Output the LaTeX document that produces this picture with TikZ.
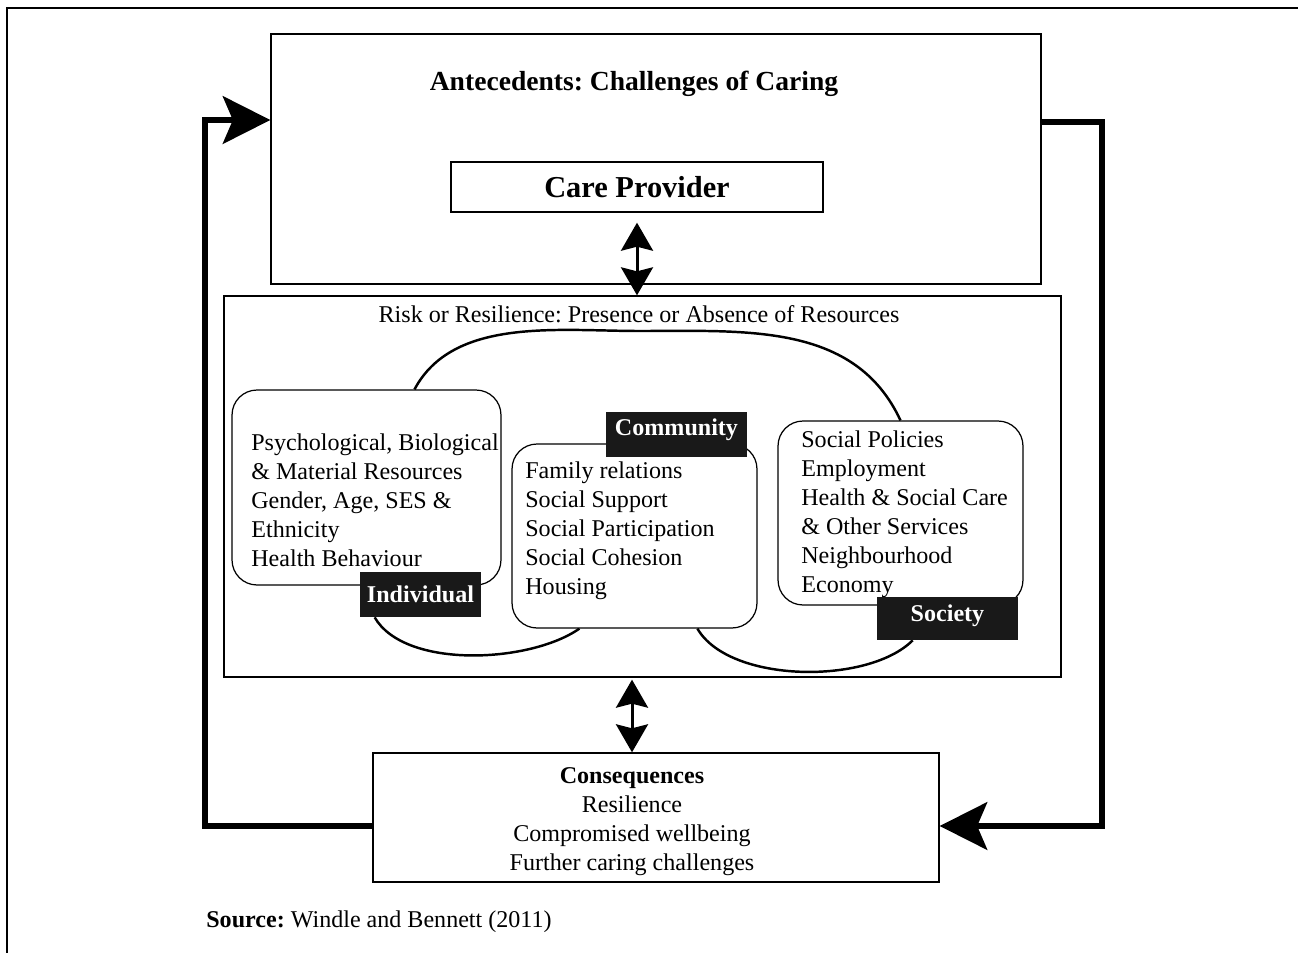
\documentclass[tikz,border=0pt]{standalone}
\usepackage{fontspec}
\setmainfont{Liberation Serif}
\usetikzlibrary{arrows.meta, calc}
\pgfdeclarelayer{bg}
\pgfsetlayers{bg,main}
\frenchspacing

\begin{document}
\begin{tikzpicture}[x=0.02cm, y=0.02cm,
    txt/.style={inner sep=0pt, font=\fontsize{13.7pt}{16.5pt}\selectfont},
    plainbox/.style={draw, line width=0.8pt, inner sep=0pt},
    resbox/.style={draw, line width=0.7pt, rounded corners=0.5cm, fill=white, inner sep=0pt},
    tag/.style={fill=black!90, text=white, inner sep=0pt, font=\fontsize{13.7pt}{16.5pt}\selectfont\bfseries},
    feedback/.style={line width=3.4pt, -{Stealth[length=0.95cm, width=0.95cm, inset=0.2cm]}},
    twoway/.style={line width=1.7pt, {Stealth[length=0.56cm, width=0.64cm, inset=0.08cm]}-{Stealth[length=0.56cm, width=0.64cm, inset=0.08cm]}}]
    \useasboundingbox (0,0) rectangle (1298,-953);

    % frame
    \draw[line width=1.6pt] (7,-953) -- (7,-8) -- (1298,-8);

    % antecedents
    \node[plainbox, minimum width=15.4cm, minimum height=5cm] (antec) at (656,-159) {};
    \node[txt, anchor=base, font=\fontsize{15.7pt}{18pt}\selectfont\bfseries] (antectitle) at (634,-91) {Antecedents: Challenges of Caring};
    \node[plainbox, minimum width=7.44cm, minimum height=1cm, font=\fontsize{17.3pt}{20pt}\selectfont\bfseries] (care) at (637,-187) {Care Provider};

    % resources
    \node[plainbox, minimum width=16.74cm, minimum height=7.62cm] (risk) at (642.5,-486.5) {};
    \node[txt, anchor=base] (risklabel) at (639,-322) {Risk or Resilience: Presence or Absence of Resources};

    \node[resbox, minimum width=5.38cm, minimum height=3.9cm] (indiv) at (366.5,-487.5) {};
    \node[resbox, minimum width=4.9cm, minimum height=3.68cm] (comm) at (634.5,-536) {};
    \node[resbox, minimum width=4.9cm, minimum height=3.68cm] (soc) at (900.5,-513) {};

    % anchored at the last line
    \node[txt, anchor=base west, align=left] (indivtxt) at (251,-566)
        {Psychological, Biological\\ \& Material Resources\\ Gender, Age, SES \&\\ Ethnicity\\ Health Behaviour};
    \node[txt, anchor=base west, align=left] (commtxt) at (525,-594)
        {Family relations\\ Social Support\\ Social Participation\\ Social Cohesion\\ Housing};
    \node[txt, anchor=base west, align=left] (soctxt) at (801,-592)
        {Social Policies\\ Employment\\ Health \& Social Care\\ \& Other Services\\ Neighbourhood\\ Economy};

    \node[tag, minimum width=2.42cm, minimum height=0.9cm] (indivtag) at (420.5,-594.5) {Individual};
    \node[tag, minimum width=2.82cm, minimum height=0.9cm] (commtag) at (676.5,-434.5) {\raisebox{0.28cm}{Community}};
    \node[tag, minimum width=2.82cm, minimum height=0.86cm] (soctag) at (947.5,-618.5) {\raisebox{0.2cm}{Society}};

    \coordinate (archtop) at (640,-331);
    \begin{pgfonlayer}{bg}
      \draw[line width=1.4pt] ($(indiv.north)+(48,0)$) to[out=62, in=180, looseness=0.9] (archtop) to[out=0, in=115] (soc.north);
      \draw[line width=1.4pt] ($(indivtag.south west)+(15,0)$) to[out=-60, in=-145, looseness=0.75] ($(comm.south west)+(68,0)$);
      \draw[line width=1.4pt] ($(comm.south west)+(186,0)$) to[out=-60, in=-135, looseness=0.75] ($(soctag.south west)+(36,0)$);
    \end{pgfonlayer}

    % consequences
    \node[plainbox, minimum width=11.32cm, minimum height=2.58cm] (conseq) at (656,-817.5) {};
    \node[txt, anchor=base, align=center] (conseqtxt) at (632,-870)
        {\textbf{Consequences}\\ Resilience\\ Compromised wellbeing\\ Further caring challenges};

    \node[txt, anchor=base west] (source) at (206,-927) {\textbf{Source:} Windle and Bennett (2011)};

    % arrows
    \draw[twoway] ([yshift=-0.2cm]care.south) -- (care.south |- risk.north);
    \draw[twoway] ([yshift=-0.04cm]risk.south -| conseqtxt.north) -- (conseqtxt.north |- conseq.north);
    \draw[feedback] ([yshift=-0.17cm]conseq.west) -- ++(-167,0) |- ([yshift=0.78cm]antec.west);
    \draw[feedback] ([yshift=0.74cm]antec.east) -- ++(60,0) |- ([yshift=-0.17cm]conseq.east);
\end{tikzpicture}
\end{document}
